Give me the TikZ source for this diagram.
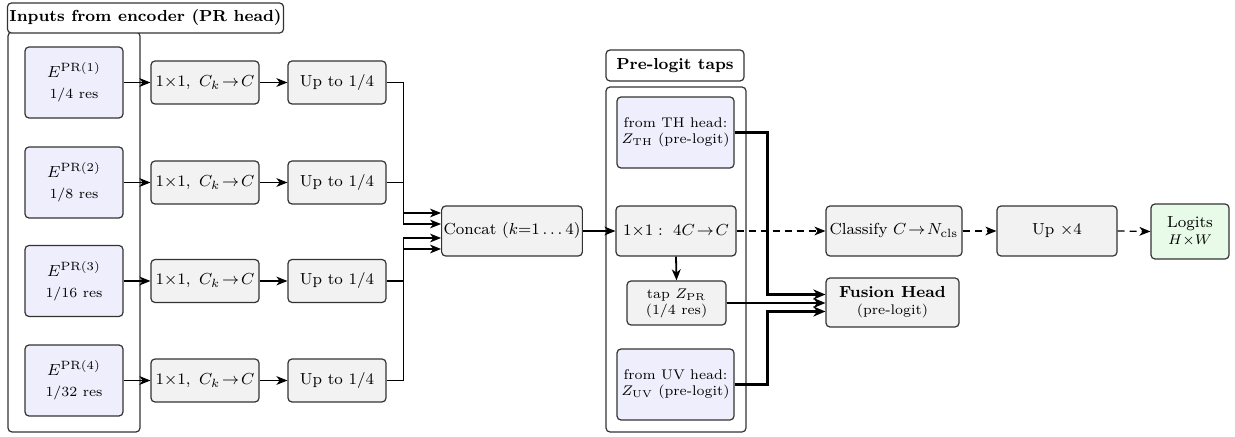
\documentclass[tikz,border=0pt]{standalone}
\usetikzlibrary{arrows.meta}
\definecolor{boxgray}{HTML}{F2F2F2}
\definecolor{lav}{HTML}{EEEEFC}
\definecolor{lgreen}{HTML}{E8FBE8}
\definecolor{edge}{HTML}{333333}
\begin{document}
\begin{tikzpicture}[x=0.5pt,y=-0.5pt,
  box/.style={draw=edge, line width=0.6pt, rounded corners=2pt, fill=boxgray, align=center, inner sep=1pt, font=\footnotesize},
  enc/.style={box, fill=lav, minimum width=49pt, minimum height=35.5pt},
  conv/.style={box, minimum width=54pt, minimum height=21.5pt},
  upb/.style={box, minimum width=49pt, minimum height=21.5pt},
  wide/.style={box, minimum height=25pt},
  tap/.style={box, fill=lav, minimum width=58.5pt, minimum height=35.5pt, font=\scriptsize},
  group/.style={draw=edge, line width=0.6pt, rounded corners=2pt, fill=white},
  gtitle/.style={draw=edge, line width=0.6pt, rounded corners=2pt, fill=white, font=\footnotesize\bfseries, inner sep=1pt},
  arr/.style={-{Stealth[length=5.5pt,width=4.4pt,inset=1.6pt]}, line width=0.6pt},
  thickarr/.style={-{Stealth[length=6pt,width=5pt,inset=1.8pt]}, line width=1.3pt},
  dasharr/.style={arr, dash pattern=on 3.5pt off 2.5pt}]
\useasboundingbox (0,0) rectangle (1235,437);

% group 1
\node[group, minimum width=66pt, minimum height=200pt] (g1) at (74,232) {};
\node[gtitle, minimum width=137.5pt, minimum height=15pt] (g1t) at (145.5,18) {Inputs from encoder (PR head)};

\node[enc] (e1) at (74,82.5) {$E^{\mathrm{PR}(1)}$\\[1pt]{\scriptsize 1/4 res}};
\node[enc] (e2) at (74,182.5) {$E^{\mathrm{PR}(2)}$\\[1pt]{\scriptsize 1/8 res}};
\node[enc] (e3) at (74,281) {$E^{\mathrm{PR}(3)}$\\[1pt]{\scriptsize 1/16 res}};
\node[enc] (e4) at (74,380.5) {$E^{\mathrm{PR}(4)}$\\[1pt]{\scriptsize 1/32 res}};

\foreach \i/\y in {1/82.5,2/182.5,3/281,4/380.5}{
  \node[conv] (c\i) at (205,\y) {$1{\times}1,\ C_k\!\to\!C$};
  \node[upb] (u\i) at (337,\y) {Up to 1/4};
  \draw[arr] (e\i.east) -- (c\i.west);
  \draw[arr] (c\i.east) -- (u\i.west);
}

\node[wide, minimum width=69pt] (cat) at (512,231) {Concat ($k{=}1\ldots4$)};
\draw[arr] (u1.east) -- ++(17,0) |- ([yshift=9pt]cat.west);
\draw[arr] (u2.east) -- ++(17,0) |- ([yshift=3.5pt]cat.west);
\draw[arr] (u3.east) -- ++(17,0) |- ([yshift=-3.5pt]cat.west);
\draw[arr] (u4.east) -- ++(17,0) |- ([yshift=-9pt]cat.west);

% group 2
\node[group, minimum width=70pt, minimum height=172.5pt] (g2) at (676,259.5) {};
\node[gtitle, minimum width=69pt, minimum height=15.5pt] (g2t) at (675,65.5) {Pre-logit taps};

\node[tap] (th) at (675.5,132.5) {from TH head:\\$Z_{\mathrm{TH}}$ (pre-logit)};
\node[wide, minimum width=60pt] (p) at (676,231) {$1{\times}1:\ 4C\!\to\!C$};
\node[box, minimum width=49.5pt, minimum height=22pt, font=\scriptsize] (tz) at (676.5,303) {tap $Z_{\mathrm{PR}}$\\(1/4 res)};
\node[tap] (uv) at (675.5,384.5) {from UV head:\\$Z_{\mathrm{UV}}$ (pre-logit)};

\draw[arr] (cat.east) -- (p.west);
\draw[arr, line width=0.9pt] (p.south) -- (tz.north);

\node[wide, minimum width=68pt] (cls) at (894,231) {Classify $C\!\to\!N_{\mathrm{cls}}$};
\node[wide, minimum width=60pt] (up4) at (1057,231) {Up $\times 4$};
\node[box, fill=lgreen, minimum width=39pt, minimum height=27.5pt] (lg) at (1190,231.5) {Logits\\[-1pt]{\scriptsize $H{\times}W$}};
\node[wide, minimum width=66.5pt, minimum height=24.5pt] (fh) at (892.5,302.5) {\textbf{Fusion Head}\\[-1pt]{\scriptsize (pre-logit)}};

\draw[dasharr] (p.east) -- (cls.west);
\draw[dasharr] (cls.east) -- (up4.west);
\draw[dasharr] (up4.east) -- (lg.west);

\draw[thickarr] (th.east) -- ++(33,0) |- ([yshift=4pt]fh.west);
\draw[thickarr] (tz.east) -- (tz.east -| fh.west);
\draw[thickarr] (uv.east) -- ++(33,0) |- ([yshift=-4.5pt]fh.west);
\end{tikzpicture}
\end{document}
